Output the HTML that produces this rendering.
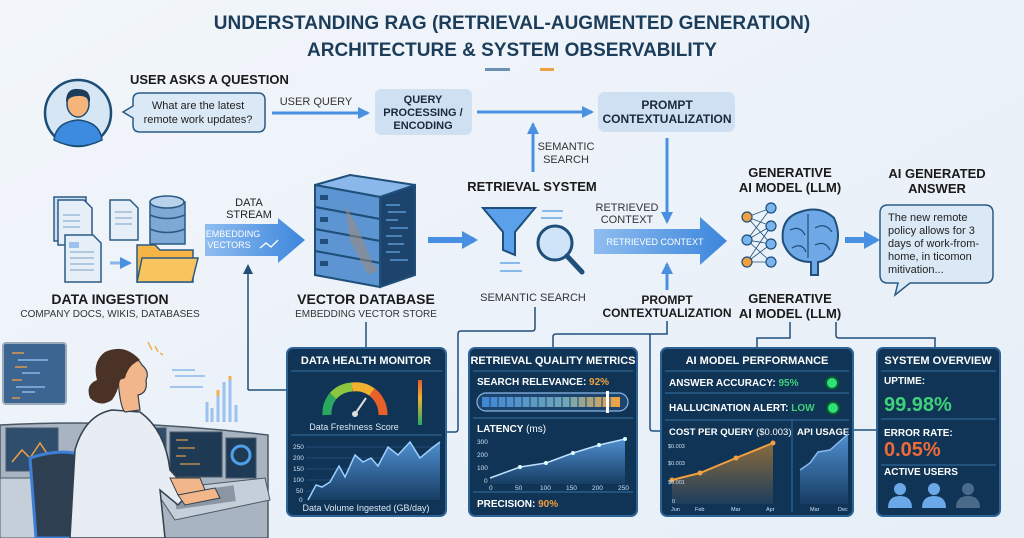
<!DOCTYPE html>
<html><head><meta charset="utf-8"><style>
html,body{margin:0;padding:0;background:#eef3f9;}
svg{display:block;font-family:"Liberation Sans",sans-serif;}
</style></head><body>
<svg width="1024" height="538" viewBox="0 0 1024 538" xmlns="http://www.w3.org/2000/svg">
<defs>
<linearGradient id="bg" x1="0" y1="0" x2="1" y2="1"><stop offset="0" stop-color="#f2f6fb"/><stop offset="1" stop-color="#e6eef7"/></linearGradient>
<linearGradient id="ar" x1="0" x2="1"><stop offset="0" stop-color="#8fbdf0"/><stop offset="1" stop-color="#3c86dc"/></linearGradient>
<linearGradient id="area" x1="0" y1="0" x2="0" y2="1"><stop offset="0" stop-color="#4f8fd0"/><stop offset="1" stop-color="#173d63"/></linearGradient>
<linearGradient id="oarea" x1="0" y1="0" x2="0" y2="1"><stop offset="0" stop-color="#8a6a3a"/><stop offset="1" stop-color="#1d3d5e"/></linearGradient>
<linearGradient id="vbar" x1="0" y1="0" x2="0" y2="1"><stop offset="0" stop-color="#e85a2a"/><stop offset="0.4" stop-color="#f0b030"/><stop offset="1" stop-color="#2aa860"/></linearGradient>
<linearGradient id="rel" x1="0" x2="1"><stop offset="0" stop-color="#3f86d6"/><stop offset="0.6" stop-color="#6fa6b8"/><stop offset="1" stop-color="#f2a440"/></linearGradient>
<marker id="ah" markerUnits="userSpaceOnUse" markerWidth="12" markerHeight="12" refX="10" refY="6" orient="auto"><path d="M0,0 L12,6 L0,12 z" fill="#4a90e2"/></marker>
<marker id="ahb" markerUnits="userSpaceOnUse" markerWidth="16" markerHeight="18" refX="12" refY="9" orient="auto"><path d="M0,0 L16,9 L0,18 z" fill="#4a90e2"/></marker>
<marker id="ahd" markerUnits="userSpaceOnUse" markerWidth="10" markerHeight="10" refX="8" refY="5" orient="auto"><path d="M0,0 L10,5 L0,10 z" fill="#1f4f7a"/></marker>
</defs>
<rect width="1024" height="538" fill="url(#bg)"/>

<g font-weight="bold" fill="#1c3d5a" font-size="19" text-anchor="middle">
<text x="512" y="29">UNDERSTANDING RAG (RETRIEVAL-AUGMENTED GENERATION)</text>
<text x="512" y="56">ARCHITECTURE &amp; SYSTEM OBSERVABILITY</text>
</g>
<rect x="485" y="68" width="25" height="3" fill="#6b8fb5"/><rect x="540" y="68" width="14" height="3" fill="#f0a040"/>

<circle cx="78" cy="113" r="33" fill="#d6e6f5" stroke="#1d4d75" stroke-width="2.5"/>
<path d="M54,140 Q56,122 78,120 Q100,122 102,140 Q90,146 78,146 Q66,146 54,140z" fill="#3d8be0" stroke="#1d4d75" stroke-width="1.5"/>
<ellipse cx="78" cy="104" rx="11" ry="13" fill="#f6b47a" stroke="#1d4d75" stroke-width="1.5"/>
<path d="M66,102 Q66,88 78,89 Q91,89 90,102 Q86,95 78,96 Q70,96 66,102z" fill="#1c3d5a"/>
<text x="130" y="84" font-size="13" font-weight="bold" fill="#1a1a1a">USER ASKS A QUESTION</text>
<path d="M140,93 H258 Q265,93 265,100 V125 Q265,132 258,132 H140 Q133,132 133,125 V118 L123,112 L133,106 V100 Q133,93 140,93z" fill="#dbe8f5" stroke="#2a5a85" stroke-width="1.5"/>
<g font-size="11" fill="#222" text-anchor="middle"><text x="198" y="109">What are the latest</text><text x="198" y="123">remote work updates?</text></g>
<text x="316" y="105" font-size="11" fill="#333" text-anchor="middle">USER QUERY</text>
<line x1="272" y1="113" x2="368" y2="113" stroke="#4a90e2" stroke-width="3" marker-end="url(#ah)"/>
<rect x="375" y="89" width="97" height="46" rx="6" fill="#cfe0f2"/>
<g font-size="11" font-weight="bold" fill="#1a2a3a" text-anchor="middle"><text x="423" y="103">QUERY</text><text x="423" y="116">PROCESSING /</text><text x="423" y="129">ENCODING</text></g>
<line x1="477" y1="112" x2="592" y2="112" stroke="#4a90e2" stroke-width="3" marker-end="url(#ah)"/>
<rect x="598" y="92" width="137" height="40" rx="7" fill="#cfe0f2"/>
<g font-size="12" font-weight="bold" fill="#1a2a3a" text-anchor="middle"><text x="667" y="109">PROMPT</text><text x="667" y="123">CONTEXTUALIZATION</text></g>
<line x1="533" y1="172" x2="533" y2="124" stroke="#4a90e2" stroke-width="3" marker-end="url(#ah)"/>
<g font-size="11" fill="#333" text-anchor="middle"><text x="566" y="150">SEMANTIC</text><text x="566" y="163">SEARCH</text></g>
<line x1="667" y1="138" x2="667" y2="222" stroke="#4a90e2" stroke-width="3" marker-end="url(#ah)"/>

<g stroke="#2a5a85" stroke-width="1.5">
<rect x="54" y="197" width="32" height="44" fill="#cfe0f2"/>
<path d="M58,200 H84 L92,208 V245 H58z" fill="#e6eef7"/>
<path d="M65,235 H93 L101,243 V282 H65z" fill="#e6eef7"/>
<rect x="69" y="242" width="10" height="6" fill="#9cc3ee" stroke="none"/>
<path d="M110,200 H130 L138,208 V240 H110z" fill="#e6eef7"/>
<rect x="150" y="202" width="35" height="42" fill="#7fa9d5"/>
<ellipse cx="167" cy="202" rx="17" ry="6" fill="#b9d2ec"/>
<path d="M150,215 Q167,222 185,215 M150,229 Q167,236 185,229" fill="none"/>
<path d="M137,245 H155 L160,250 H193 V282 H137z" fill="#f6b447"/>
<path d="M142,258 H198 L192,282 H137z" fill="#f8c45e"/>
</g>
<g stroke="#8fb0d0" stroke-width="1.2"><path d="M63,215 H80 M63,221 H80 M63,227 H80 M70,252 H94 M70,258 H94 M70,264 H94 M70,270 H94 M115,212 H132 M115,218 H132 M115,224 H132"/></g>
<line x1="110" y1="263" x2="130" y2="263" stroke="#8ab8ea" stroke-width="3" marker-end="url(#ah)"/>
<text x="110" y="304" font-size="14" font-weight="bold" fill="#1a1a1a" text-anchor="middle">DATA INGESTION</text>
<text x="110" y="317" font-size="10" fill="#333" text-anchor="middle">COMPANY DOCS, WIKIS, DATABASES</text>

<g font-size="11" fill="#222" text-anchor="middle"><text x="249" y="206">DATA</text><text x="249" y="218">STREAM</text></g>
<path d="M205,224 H278 V218 L305,240 L278,263 V256 H205z" fill="url(#ar)"/>
<g font-size="9" fill="#fff" text-anchor="middle"><text x="233" y="237">EMBEDDING</text><text x="229" y="248">VECTORS</text></g>
<path d="M260,248 L266,243 L271,247 L278,240" stroke="#fff" fill="none" stroke-width="1.3"/>

<path d="M315,185 L350,175 L415,185 L380,197z" fill="#8ab8ea" stroke="#1f4f7a" stroke-width="2"/>
<path d="M380,197 L415,185 V275 L380,287z" fill="#1d446d" stroke="#1f4f7a" stroke-width="2"/>
<g stroke="#1f4f7a" stroke-width="2" fill="#5d95d2">
<path d="M315,185 L380,197 V219 L315,207z"/><path d="M315,207 L380,219 V241 L315,229z"/><path d="M315,229 L380,241 V263 L315,251z"/><path d="M315,251 L380,263 V287 L315,275z"/>
</g>
<g fill="#1f4f7a"><rect x="320" y="195" width="8" height="5"/><rect x="320" y="217" width="8" height="5"/><rect x="320" y="239" width="8" height="5"/><rect x="320" y="261" width="8" height="5"/></g>
<g stroke="#6aa8e8" stroke-width="1.2"><path d="M386,205 H400 M388,212 H406 M386,220 H398 M390,228 H408 M386,236 H402 M388,244 H404 M386,252 H400 M390,260 H408"/></g>
<path d="M345,205 Q360,230 372,262 L378,270 L368,275 L350,240z" fill="#a08a78" opacity="0.55"/>
<text x="366" y="304" font-size="14" font-weight="bold" fill="#1a1a1a" text-anchor="middle">VECTOR DATABASE</text>
<text x="366" y="317" font-size="10" fill="#333" text-anchor="middle">EMBEDDING VECTOR STORE</text>
<line x1="428" y1="240" x2="474" y2="240" stroke="#4a90e2" stroke-width="6" marker-end="url(#ahb)"/>

<text x="532" y="191" font-size="13" font-weight="bold" fill="#1a1a1a" text-anchor="middle">RETRIEVAL SYSTEM</text>
<path d="M483,208 H535 L515,232 V255 L503,250 V232z" fill="#5aa0ea" stroke="#1f4f7a" stroke-width="2"/>
<circle cx="555" cy="243" r="17" fill="#cfe4f8" stroke="#1f4f7a" stroke-width="3"/>
<line x1="567" y1="256" x2="582" y2="272" stroke="#1f4f7a" stroke-width="5" stroke-linecap="round"/>
<g stroke="#6aa8e8" stroke-width="1.5"><path d="M542,211 H563 M541,218 H562 M500,263 H520 M500,271 H522"/></g>
<text x="533" y="301" font-size="11" fill="#333" text-anchor="middle">SEMANTIC SEARCH</text>

<g font-size="11" fill="#333" text-anchor="middle"><text x="627" y="211">RETRIEVED</text><text x="627" y="223">CONTEXT</text></g>
<path d="M594,229 H700 V217 L727,241 L700,265 V254 H594z" fill="url(#ar)"/>
<text x="655" y="245" font-size="9" fill="#fff" text-anchor="middle">RETRIEVED CONTEXT</text>
<line x1="667" y1="290" x2="667" y2="264" stroke="#4a90e2" stroke-width="3" marker-end="url(#ah)"/>
<g font-size="12" font-weight="bold" fill="#1a1a1a" text-anchor="middle"><text x="667" y="304">PROMPT</text><text x="667" y="317">CONTEXTUALIZATION</text></g>

<g font-size="13" font-weight="bold" fill="#1a1a1a" text-anchor="middle"><text x="790" y="177">GENERATIVE</text><text x="790" y="192">AI MODEL (LLM)</text><text x="790" y="303">GENERATIVE</text><text x="790" y="318">AI MODEL (LLM)</text></g>
<g stroke="#1f4f7a" stroke-width="0.8">
<path d="M747,217 L771,208 M747,217 L771,226 M747,217 L771,244 M747,240 L771,208 M747,240 L771,226 M747,240 L771,244 M747,240 L771,262 M747,262 L771,226 M747,262 L771,244 M747,262 L771,262"/>
</g>
<g stroke="#1f4f7a" stroke-width="1.2"><circle cx="747" cy="217" r="5" fill="#f0a040"/><circle cx="747" cy="240" r="5" fill="#7ab4ee"/><circle cx="747" cy="262" r="5" fill="#f0a040"/><circle cx="771" cy="208" r="5" fill="#7ab4ee"/><circle cx="771" cy="226" r="5" fill="#7ab4ee"/><circle cx="771" cy="244" r="5" fill="#7ab4ee"/><circle cx="771" cy="262" r="5" fill="#7ab4ee"/></g>
<path d="M783,242 Q780,218 800,212 Q820,205 834,218 Q843,238 832,255 Q824,262 818,262 L818,275 H811 V262 Q790,262 783,242z" fill="#6ea8e6" stroke="#1f4f7a" stroke-width="2"/>
<path d="M808,214 V258 M790,230 Q800,225 805,235 M815,228 Q825,222 832,232 M792,248 Q802,242 806,252 M815,245 Q825,240 830,250" stroke="#1f4f7a" fill="none" stroke-width="1.2"/>
<line x1="845" y1="240" x2="876" y2="240" stroke="#4a90e2" stroke-width="6" marker-end="url(#ahb)"/>
<g font-size="13" font-weight="bold" fill="#1a1a1a" text-anchor="middle"><text x="937" y="178">AI GENERATED</text><text x="937" y="193">ANSWER</text></g>
<path d="M888,205 H985 Q993,205 993,213 V275 Q993,283 985,283 H910 L895,295 L898,283 H888 Q880,283 880,275 V213 Q880,205 888,205z" fill="#dbe8f5" stroke="#2a5a85" stroke-width="1.5"/>
<g font-size="11" fill="#222"><text x="888" y="221">The new remote</text><text x="888" y="234">policy allows for 3</text><text x="888" y="247">days of work-from-</text><text x="888" y="260">home, in ticomon</text><text x="888" y="273">mitivation...</text></g>

<g stroke="#1f4f7a" stroke-width="1.5" fill="none">
<line x1="248" y1="390" x2="248" y2="266" marker-end="url(#ahd)"/>
<path d="M248,390 H287"/>
<path d="M366,322 V348"/>
<path d="M535,307 V328 Q535,331 532,331 H461 Q458,331 458,334 V429 Q458,432 455,432 H446"/>
<path d="M667,321 V334 H556 Q553,334 553,337 V348"/>
<path d="M650,334 V428 Q650,431 653,431 H661"/>
<path d="M790,322 V338 H757 V348"/>
<path d="M836,322 V335 Q836,338 839,338 H935 V348"/>
<path d="M853,430 H877"/>
</g>

<g stroke="#2d6396" stroke-width="2" fill="#0f3456">
<rect x="287" y="348" width="159" height="168" rx="6"/>
<rect x="469" y="348" width="168" height="168" rx="6"/>
<rect x="661" y="348" width="192" height="168" rx="6"/>
<rect x="877" y="348" width="123" height="168" rx="6"/>
</g>
<g stroke="#2d6396" stroke-width="1.2">
<path d="M291,371 H442 M291,435 H442 M473,371 H633 M473,418 H633 M473,492 H633 M665,371 H849 M665,393 H849 M665,420 H849 M881,371 H996 M881,419 H996 M881,465 H996"/>
<path d="M792,420 V512"/>
</g>
<g font-size="11" font-weight="bold" fill="#fff" text-anchor="middle">
<text x="366" y="364">DATA HEALTH MONITOR</text><text x="553" y="364">RETRIEVAL QUALITY METRICS</text><text x="757" y="364">AI MODEL PERFORMANCE</text><text x="938" y="364">SYSTEM OVERVIEW</text>
</g>
<path d="M327,415 A28,28 0 0 1 333,396" stroke="#2aa860" stroke-width="9" fill="none"/>
<path d="M333,396 A28,28 0 0 1 352,387" stroke="#8cc63e" stroke-width="9" fill="none"/>
<path d="M352,387 A28,28 0 0 1 372,392" stroke="#f0b030" stroke-width="9" fill="none"/>
<path d="M372,392 A28,28 0 0 1 383,415" stroke="#e8602a" stroke-width="9" fill="none"/>
<line x1="355" y1="414" x2="366" y2="398" stroke="#ddd" stroke-width="2"/><circle cx="355" cy="414" r="3" fill="#ddd"/>
<rect x="418" y="380" width="4" height="45" fill="url(#vbar)"/>
<text x="354" y="430" font-size="9" fill="#dde8f4" text-anchor="middle">Data Freshness Score</text>
<g stroke="#2a5580" stroke-width="0.7"><path d="M306,447 H440 M306,458 H440 M306,469 H440 M306,480 H440 M306,491 H440"/></g>
<path d="M308,500 L316,485 L322,487 L330,482 L339,466 L345,477 L355,455 L363,462 L371,458 L378,466 L388,447 L398,455 L410,442 L420,458 L432,448 L440,442 V500z" fill="url(#area)"/>
<path d="M308,500 L316,485 L322,487 L330,482 L339,466 L345,477 L355,455 L363,462 L371,458 L378,466 L388,447 L398,455 L410,442 L420,458 L432,448 L440,442" fill="none" stroke="#9dd0ff" stroke-width="1.5"/>
<g font-size="6.5" fill="#cfe0f2"><text x="293" y="449">250</text><text x="293" y="460">200</text><text x="293" y="471">150</text><text x="293" y="482">100</text><text x="296" y="493">50</text><text x="299" y="502">0</text></g>
<text x="366" y="511" font-size="9" fill="#dde8f4" text-anchor="middle">Data Volume Ingested (GB/day)</text>
<text x="477" y="385" font-size="10" font-weight="bold" fill="#fff">SEARCH RELEVANCE: <tspan fill="#f0a040">92%</tspan></text>
<rect x="477" y="393" width="151" height="18" rx="9" fill="#1d446d" stroke="#8ab8ea" stroke-width="1.2"/>
<rect x="482" y="397" width="138" height="10" fill="url(#rel)"/>
<g stroke="#1d446d" stroke-width="1"><path d="M490,397 V407 M498,397 V407 M506,397 V407 M514,397 V407 M522,397 V407 M530,397 V407 M538,397 V407 M546,397 V407 M554,397 V407 M562,397 V407 M570,397 V407 M578,397 V407 M586,397 V407 M594,397 V407 M602,397 V407 M610,397 V407"/></g>
<rect x="606" y="391" width="3" height="22" fill="#fff"/>
<text x="477" y="432" font-size="10" font-weight="bold" fill="#fff">LATENCY <tspan font-weight="normal">(ms)</tspan></text>
<path d="M490,478 L520,467 L546,463 L573,453 L599,445 L625,439 V484 H490z" fill="url(#area)"/>
<path d="M490,478 L520,467 L546,463 L573,453 L599,445 L625,439" stroke="#bfe0ff" stroke-width="1.5" fill="none"/>
<g fill="#dff"><circle cx="520" cy="467" r="2"/><circle cx="546" cy="463" r="2"/><circle cx="573" cy="453" r="2"/><circle cx="599" cy="445" r="2"/><circle cx="625" cy="439" r="2"/></g>
<g font-size="6.5" fill="#cfe0f2"><text x="477" y="444">300</text><text x="477" y="457">200</text><text x="477" y="470">100</text><text x="484" y="483">0</text><text x="489" y="490">0</text><text x="515" y="490">50</text><text x="540" y="490">100</text><text x="566" y="490">150</text><text x="592" y="490">200</text><text x="618" y="490">250</text></g>
<text x="477" y="507" font-size="10" font-weight="bold" fill="#fff">PRECISION: <tspan fill="#f0a040">90%</tspan></text>
<text x="669" y="386" font-size="10" font-weight="bold" fill="#fff">ANSWER ACCURACY: <tspan fill="#3fd07a">95%</tspan></text>
<circle cx="832" cy="383" r="6" fill="#2ee07a" stroke="#0a5a30" stroke-width="2"/>
<text x="669" y="411" font-size="10" font-weight="bold" fill="#fff">HALLUCINATION ALERT: <tspan fill="#3fd07a">LOW</tspan></text>
<circle cx="833" cy="408" r="6" fill="#2ee07a" stroke="#0a5a30" stroke-width="2"/>
<text x="669" y="435" font-size="9.5" font-weight="bold" fill="#fff">COST PER QUERY <tspan font-weight="normal">($0.003)</tspan></text>
<text x="797" y="435" font-size="9.5" font-weight="bold" fill="#fff">API USAGE</text>
<path d="M672,480 L700,473 L736,458 L773,443 V504 H672z" fill="url(#oarea)"/>
<path d="M672,480 L700,473 L736,458 L773,443" stroke="#f0a040" stroke-width="2" fill="none"/>
<g fill="#f0a040"><circle cx="672" cy="480" r="2.5"/><circle cx="700" cy="473" r="2.5"/><circle cx="736" cy="458" r="2.5"/><circle cx="773" cy="443" r="2.5"/></g>
<g font-size="5.5" fill="#cfe0f2"><text x="668" y="448">$0.003</text><text x="668" y="465">$0.003</text><text x="668" y="484">$0.001</text><text x="672" y="503">0</text><text x="671" y="511">Jun</text><text x="695" y="511">Feb</text><text x="731" y="511">Mar</text><text x="766" y="511">Apr</text><text x="810" y="511">Mar</text><text x="838" y="511">Dec</text></g>
<path d="M800,470 L810,463 L818,452 L830,450 L848,434 V504 H800z" fill="url(#area)"/>
<path d="M800,470 L810,463 L818,452 L830,450 L848,434" stroke="#8ab8ea" stroke-width="1.5" fill="none"/>
<g font-size="10" font-weight="bold" fill="#fff"><text x="884" y="384">UPTIME:</text><text x="884" y="436">ERROR RATE:</text><text x="884" y="475">ACTIVE USERS</text></g>
<text x="884" y="411" font-size="20" font-weight="bold" fill="#3fd07a">99.98%</text>
<text x="884" y="456" font-size="20" font-weight="bold" fill="#ee6a3a">0.05%</text>
<g><circle cx="900" cy="489" r="6" fill="#6aa8e8"/><path d="M888,508 Q888,496 900,496 Q912,496 912,508z" fill="#6aa8e8"/>
<circle cx="934" cy="489" r="6" fill="#6aa8e8"/><path d="M922,508 Q922,496 934,496 Q946,496 946,508z" fill="#6aa8e8"/>
<circle cx="968" cy="489" r="6" fill="#4a6a8a"/><path d="M956,508 Q956,496 968,496 Q980,496 980,508z" fill="#4a6a8a"/></g>

<rect x="3" y="343" width="63" height="61" rx="3" fill="#3d6591" stroke="#9ab" stroke-width="2"/>
<g stroke="#d99a50" stroke-width="1.5"><path d="M12,353 H24 M15,367 H27 M12,380 H22 M12,398 H20"/></g>
<g stroke="#8ab8ea" stroke-width="1.5"><path d="M18,360 H48 M22,373 H40 M16,387 H45 M22,392 H35"/></g>
<g stroke="#f0b050" stroke-width="1.5"><path d="M148,342 L152,350 M155,346 L158,352 M160,353 L163,355"/></g>
<g stroke="#8ab8ea" stroke-width="1.5"><path d="M172,370 H195 M175,376 H205 M170,387 H203"/></g>
<g stroke="#9cc3ee" stroke-width="3"><path d="M207,422 V402 M212,422 V408 M218,422 V396 M224,422 V382 M230,422 V376 M236,422 V405"/></g>
<g stroke="#f0b050" stroke-width="3"><path d="M218,396 V390 M230,376 V380"/></g>
<path d="M0,425 Q130,418 268,435 V538 H0z" fill="#a8b4c2" stroke="#4a5866" stroke-width="1.5"/>
<rect x="6" y="428" width="52" height="43" fill="#2f4e6e" stroke="#4a5866"/>
<path d="M12,462 L22,450 L30,458 L40,443 L48,455" stroke="#f0a040" fill="none" stroke-width="1.5"/>
<rect x="128" y="428" width="38" height="45" fill="#2f4e6e" stroke="#4a5866"/>
<rect x="170" y="432" width="52" height="45" fill="#1e3a55" stroke="#4a5866"/>
<g stroke="#d99a50" stroke-width="1.2"><path d="M176,440 H188 M178,448 H195 M176,456 H186 M180,464 H200"/></g>
<rect x="226" y="438" width="30" height="40" fill="#1e3a55" stroke="#4a5866"/>
<circle cx="241" cy="455" r="9" fill="none" stroke="#4fa0e8" stroke-width="3"/>
<path d="M0,478 H60 L90,490 V538 H0z" fill="#c5cfda" stroke="#4a5866"/>
<path d="M155,490 L265,478 L270,500 L175,520z" fill="#c5cfda" stroke="#4a5866"/>
<rect x="175" y="490" width="60" height="16" fill="#8a96a4" transform="rotate(-8 200 498)"/>
<path d="M30,458 Q60,448 82,455 L92,538 H36z" fill="#2f3f52" stroke="#3d7fd6" stroke-width="3"/>
<path d="M70,538 L75,450 Q85,415 112,410 L140,412 Q165,430 170,470 L190,492 L178,505 L160,490 L165,538z" fill="#e8edf3" stroke="#34404e" stroke-width="1.5"/>
<path d="M170,478 L200,478 L205,490 L178,495z" fill="#f1b78a" stroke="#34404e"/>
<path d="M178,495 L215,488 L220,498 L185,505z" fill="#f1b78a" stroke="#34404e"/>
<path d="M118,378 Q120,408 125,412 L140,410 L138,395 Q148,393 146,380 Q150,372 142,365 Q135,352 118,360z" fill="#f1b78a" stroke="#34404e" stroke-width="1.2"/>
<path d="M140,360 Q125,343 105,352 Q92,362 97,380 Q85,385 90,398 Q100,408 112,400 Q118,392 120,380 L125,378 Q128,365 140,360z" fill="#4a3226"/>
</svg>
</body></html>
